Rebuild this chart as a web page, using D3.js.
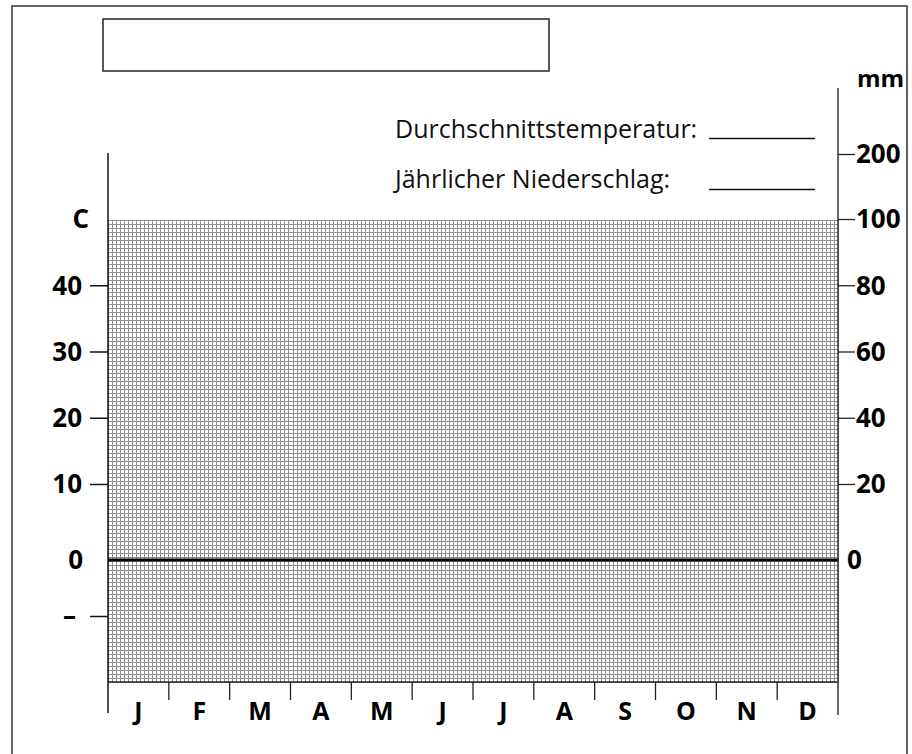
<!DOCTYPE html>
<html>
<head>
<meta charset="utf-8">
<script src="https://cdn.jsdelivr.net/npm/d3@7"></script>
<style>
  body { margin: 0; background: #fff; }
  svg { display: block; }
</style>
</head>
<body>
<script>
// Klimadiagramm (leer)
var months = ["J", "F", "M", "A", "M", "J", "J", "A", "S", "O", "N", "D"];

var tempDomain = [-22, -10, 0, 10, 50];
var tempTickValues = [40, 30, 20, 10, -10];
var tempLabelValues = [50, 40, 30, 20, 10, 0, -10];
var tempLabelText = ["C", "40", "30", "20", "10", "0", "\u2013"];

var precipDomain = [0, 20, 100, 200];
var precipTickValues = [200, 100, 80, 60, 40, 20];
var precipLabelValues = [200, 100, 80, 60, 40, 20, 0];

var infoLabels = ["Durchschnittstemperatur:", "J\u00e4hrlicher Niederschlag:"];

var gridCols = 182, gridRows = 115;

var width = 912, height = 754;
var gLeft = 108, gRight = 838, gTop = 219, gBottom = 682;

var svg = d3.select("body").append("svg")
  .attr("width", width)
  .attr("height", height);

var y = d3.scaleLinear()
  .domain(tempDomain)
  .range([gBottom, 616, 560, 484, gTop]);

var yP = d3.scaleLinear()
  .domain(precipDomain)
  .range([y(0), y(10), y(50), 154]);

var x = d3.scaleBand()
  .domain(d3.range(months.length))
  .range([gLeft, gRight]);

// outer frame + title box
svg.append("path")
  .attr("d", "M12,760V6H907V760")
  .attr("fill", "none")
  .attr("stroke", "#333")
  .attr("stroke-width", 1.5);

svg.append("rect")
  .attr("x", 103).attr("y", 19)
  .attr("width", 446).attr("height", 52)
  .attr("fill", "none")
  .attr("stroke", "#222")
  .attr("stroke-width", 1.5);

// millimetre grid
var gx = d3.scaleLinear().domain([0, gridCols]).range([gLeft, gRight]);
var gy = d3.scaleLinear().domain([0, gridRows]).range([gTop + 1, gBottom]);

var grid = svg.append("g")
  .attr("stroke", "#8f8f8f")
  .attr("stroke-width", 1)
  .attr("shape-rendering", "crispEdges");

grid.selectAll(".v")
  .data(d3.range(gridCols + 1))
  .enter().append("line")
  .attr("class", "v")
  .attr("x1", function(d) { return Math.round(gx(d)) + 0.5; })
  .attr("x2", function(d) { return Math.round(gx(d)) + 0.5; })
  .attr("y1", gTop + 1)
  .attr("y2", gBottom);

grid.selectAll(".h")
  .data(d3.range(gridRows + 1))
  .enter().append("line")
  .attr("class", "h")
  .attr("y1", function(d) { return Math.round(gy(d)) + 0.5; })
  .attr("y2", function(d) { return Math.round(gy(d)) + 0.5; })
  .attr("x1", gLeft)
  .attr("x2", gRight);

// bottom edge of the grid
svg.append("line")
  .attr("x1", gLeft).attr("x2", gRight)
  .attr("y1", gBottom).attr("y2", gBottom)
  .attr("stroke", "#222").attr("stroke-width", 1.5);

// zero line
svg.append("line")
  .attr("x1", gLeft).attr("x2", gRight)
  .attr("y1", y(0)).attr("y2", y(0))
  .attr("stroke", "#000").attr("stroke-width", 3);

// axis lines
svg.append("line")
  .attr("x1", gLeft).attr("x2", gLeft)
  .attr("y1", 153).attr("y2", 713)
  .attr("stroke", "#111").attr("stroke-width", 1.5);

svg.append("line")
  .attr("x1", gRight).attr("x2", gRight)
  .attr("y1", 88).attr("y2", 715)
  .attr("stroke", "#333").attr("stroke-width", 1.5);

// temperature ticks (left)
var axL = svg.append("g")
  .attr("transform", "translate(" + gLeft + ",0)")
  .call(d3.axisLeft(y).tickValues(tempTickValues).tickSize(18).tickFormat(""));
axL.select(".domain").remove();
axL.selectAll("line").attr("stroke", "#111").attr("stroke-width", 1.5);

svg.append("g")
  .selectAll("text")
  .data(tempLabelValues)
  .enter().append("text")
  .attr("x", function(d) { return d === 50 ? 89 : (d === 0 ? 83 : (d < 0 ? 76 : 82)); })
  .attr("y", function(d) { return y(d); })
  .attr("dy", "0.36em")
  .attr("text-anchor", "end")
  .style("font-family", "'Open Sans', sans-serif")
  .style("font-weight", "bold")
  .style("font-size", "26px")
  .text(function(d, i) { return tempLabelText[i]; });

// precipitation ticks (right)
var axR = svg.append("g")
  .attr("transform", "translate(" + gRight + ",0)")
  .call(d3.axisRight(yP).tickValues(precipTickValues).tickSize(17).tickFormat(""));
axR.select(".domain").remove();
axR.selectAll("line").attr("stroke", "#222").attr("stroke-width", 1.3);

svg.append("g")
  .selectAll("text")
  .data(precipLabelValues)
  .enter().append("text")
  .attr("x", function(d) { return d === 0 ? 847 : 856; })
  .attr("y", function(d) { return yP(d); })
  .attr("dy", "0.36em")
  .style("font-family", "'Open Sans', sans-serif")
  .style("font-weight", "bold")
  .style("font-size", "26px")
  .text(function(d) { return d; });

svg.append("text")
  .attr("x", 857).attr("y", 87)
  .style("font-family", "'Open Sans', sans-serif")
  .style("font-weight", "bold")
  .style("font-size", "24px")
  .text("mm");

// month separators and labels
svg.append("g")
  .selectAll("line")
  .data(d3.range(1, months.length))
  .enter().append("line")
  .attr("x1", function(d) { return x(d); })
  .attr("x2", function(d) { return x(d); })
  .attr("y1", gBottom).attr("y2", 700)
  .attr("stroke", "#222").attr("stroke-width", 1.3);

svg.append("g")
  .selectAll("text")
  .data(months)
  .enter().append("text")
  .attr("x", function(d, i) { return x(i) + x.bandwidth() / 2; })
  .attr("y", 720)
  .attr("text-anchor", "middle")
  .style("font-family", "'Open Sans', sans-serif")
  .style("font-weight", "bold")
  .style("font-size", "25px")
  .text(function(d) { return d; });

// info lines
var info = svg.append("g");
info.selectAll("text")
  .data(infoLabels)
  .enter().append("text")
  .attr("x", 395)
  .attr("y", function(d, i) { return 138 + i * 50; })
  .style("font-family", "'Open Sans', sans-serif")
  .style("font-size", "25px")
  .style("fill", "#111")
  .text(function(d) { return d; });

info.selectAll("line")
  .data(infoLabels)
  .enter().append("line")
  .attr("x1", 709).attr("x2", 815)
  .attr("y1", function(d, i) { return 138.5 + i * 51; })
  .attr("y2", function(d, i) { return 138.5 + i * 51; })
  .attr("stroke", "#111").attr("stroke-width", 1.3);
</script>
</body>
</html>
